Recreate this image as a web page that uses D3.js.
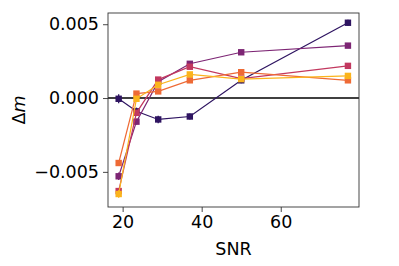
<!DOCTYPE html>
<html>
<head>
<meta charset="utf-8">
<script src="https://cdn.jsdelivr.net/npm/d3@7"></script>
<style>
  body { margin: 0; background: #fff; }
  text { font-family: "DejaVu Sans", sans-serif; }
</style>
</head>
<body>
<script>
// chart data
var snr = [19, 23.5, 29, 37, 50, 77];
var seriesA = [-0.00005, -0.0009, -0.00145, -0.00125, 0.0012, 0.0051];
var seriesB = [-0.0053, -0.0016, 0.0011, 0.00232, 0.0031, 0.00355];
var seriesC = [-0.0063, -0.0010, 0.00125, 0.00212, 0.00132, 0.00218];
var seriesD = [-0.0044, 0.0003, 0.00045, 0.0012, 0.00175, 0.0012];
var seriesE = [-0.0065, -0.00005, 0.0009, 0.0016, 0.00128, 0.0015];
var errA = [0.0003, 0.00025, 0.00025, 0.0002, 0.0002, 0.0002];
var errB = [0.00025, 0.0002, 0.00015, 0.00015, 0.00015, 0.00015];
var errC = [0.0002, 0.00015, 0.00015, 0.00015, 0.00015, 0.00015];
var errD = [0.0002, 0.00015, 0.00015, 0.00015, 0.00015, 0.00015];
var errE = [0.00025, 0.00015, 0.00015, 0.00015, 0.00015, 0.00015];
var colors = ["#2e1461", "#7d2574", "#c2385f", "#ee6a35", "#fbb41c"];
var xTicks = [20, 40, 60];
var yTicks = [-0.005, 0, 0.005];

var series = [
  {y: seriesA, e: errA},
  {y: seriesB, e: errB},
  {y: seriesC, e: errC},
  {y: seriesD, e: errD},
  {y: seriesE, e: errE}
];

var W = 399, H = 266;
var margin = {top: 13, right: 40, bottom: 59, left: 108};
var width = W - margin.left - margin.right,
    height = H - margin.top - margin.bottom;

var svg = d3.select("body").append("svg")
    .attr("width", W)
    .attr("height", H);

var g = svg.append("g")
    .attr("transform", "translate(" + margin.left + "," + margin.top + ")");

var x = d3.scaleLinear().domain([16.3, 79.8]).range([0, width]);
var y = d3.scaleLinear().domain([-0.00738, 0.00576]).range([height, 0]);

//axes
var xAxis = g.append("g")
    .attr("transform", "translate(0," + height + ")")
    .call(d3.axisBottom(x).tickValues(xTicks).tickSize(5).tickPadding(4).tickFormat(d3.format("d")));
var yAxis = g.append("g")
    .call(d3.axisLeft(y).tickValues(yTicks).tickSize(5).tickPadding(4)
      .tickFormat(function(d){ return d3.format(".3f")(d).replace("-", "\u2212"); }));

[xAxis, yAxis].forEach(function(a){
  a.select(".domain").remove();
  a.selectAll("line").attr("stroke", "#333").attr("stroke-width", 0.9);
  a.selectAll("text").attr("fill", "#000").style("font-size", "17.5px").style("font-family", "DejaVu Sans");
});

//zero line
g.append("line")
    .attr("x1", 0).attr("x2", width)
    .attr("y1", y(0)).attr("y2", y(0))
    .attr("stroke", "#000").attr("stroke-width", 1.5);

var line = d3.line()
    .x(function(d, i){ return x(snr[i]); })
    .y(function(d){ return y(d); });

series.forEach(function(s, k){
  var sg = g.append("g");
  sg.append("path")
    .datum(s.y)
    .attr("d", line)
    .attr("fill", "none")
    .attr("stroke", colors[k])
    .attr("stroke-width", 1.2);
  sg.selectAll("line.err")
    .data(s.y)
    .enter().append("line")
    .attr("class", "err")
    .attr("x1", function(d, i){ return x(snr[i]); })
    .attr("x2", function(d, i){ return x(snr[i]); })
    .attr("y1", function(d, i){ return y(d - s.e[i]); })
    .attr("y2", function(d, i){ return y(d + s.e[i]); })
    .attr("stroke", colors[k])
    .attr("stroke-width", 1.3);
  sg.selectAll("rect")
    .data(s.y)
    .enter().append("rect")
    .attr("x", function(d, i){ return x(snr[i]) - 3.2; })
    .attr("y", function(d){ return y(d) - 3.2; })
    .attr("width", 6.4)
    .attr("height", 6.4)
    .attr("fill", colors[k]);
});

//frame
g.append("rect")
    .attr("width", width).attr("height", height)
    .attr("fill", "none")
    .attr("stroke", "#333")
    .attr("stroke-width", 0.9);

//labels
svg.append("text")
    .attr("x", margin.left + width / 2)
    .attr("y", 255)
    .attr("text-anchor", "middle")
    .style("font-size", "17.5px")
    .text("SNR");

svg.append("text")
    .attr("transform", "translate(25," + (margin.top + height / 2) + ") rotate(-90)")
    .attr("text-anchor", "middle")
    .style("font-size", "17.5px")
    .html("\u0394<tspan font-style='italic'>m</tspan>");
</script>
</body>
</html>
